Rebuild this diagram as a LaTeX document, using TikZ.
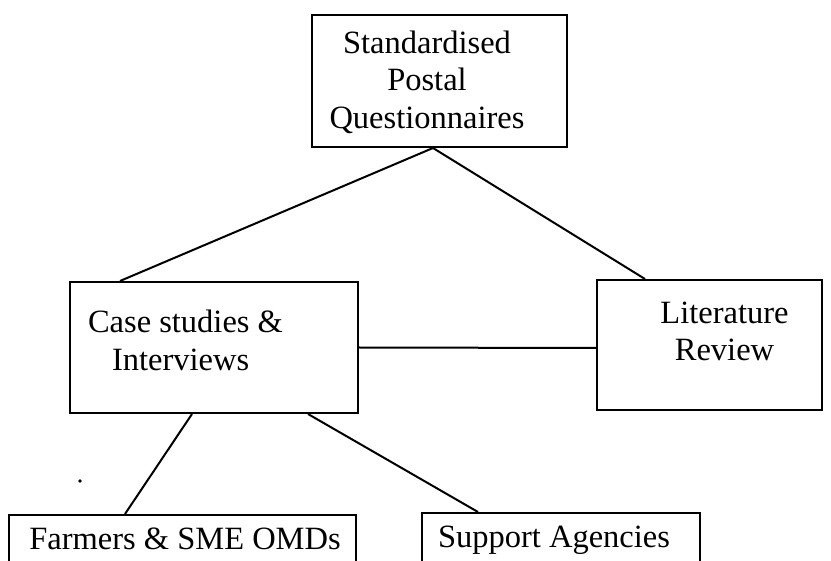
\documentclass[tikz,border=0pt]{standalone}
\usepackage{fontspec}
\setmainfont{Liberation Serif}
\usepackage{tikz}

\begin{document}
\begin{tikzpicture}[x=0.5pt, y=-0.5pt, line width=1pt,
    box/.style={draw, rectangle, inner sep=0pt},
    txt/.style={inner sep=0pt, font=\fontsize{16.25pt}{18.75pt}\selectfont}]
        \useasboundingbox (0,0) rectangle (831,561);
        \clip (0,0) rectangle (831,561);
        % boxes
        \node[box, minimum width=127.5pt, minimum height=66pt] (quest) at (439.5,81) {};
        \node[box, minimum width=144pt, minimum height=65.5pt] (case) at (214,347.5) {};
        \node[box, minimum width=112.5pt, minimum height=65pt] (lit) at (709.5,345) {};
        \node[box, minimum width=173.5pt, minimum height=42.5pt] (farm) at (182.5,557.5) {};
        \node[box, minimum width=139pt, minimum height=43.5pt] (supp) at (561,556.5) {};
        % texts
        \node[txt, align=center] (questtext) at (427,82) {Standardised\\Postal\\Questionnaires};
        \node[txt, align=left] (casetext) at (185.5,340.5) {Case studies \&\\\hspace*{12pt}Interviews};
        \node[txt, align=center] (littext) at (724.5,331.5) {Literature\\Review};
        \node[txt] (farmtext) at (185,539) {Farmers \& SME OMDs};
        \node[txt] (supptext) at (554,540.5) {Support Agencies};
        % links
        \draw ([xshift=-3.25pt]quest.south) -- ([xshift=-47pt]case.north);
        \draw ([xshift=-3.25pt]quest.south) -- ([xshift=-32.25pt]lit.north);
        \draw (case.east) -- ([yshift=-1.5pt]lit.west);
        \draw ([xshift=-11pt]case.south) -- ([xshift=-28.75pt]farm.north);
        \draw ([xshift=47pt]case.south) -- ([xshift=-41.5pt]supp.north);
        \fill (80,481) circle[radius=0.9pt];
      \end{tikzpicture}
\end{document}
